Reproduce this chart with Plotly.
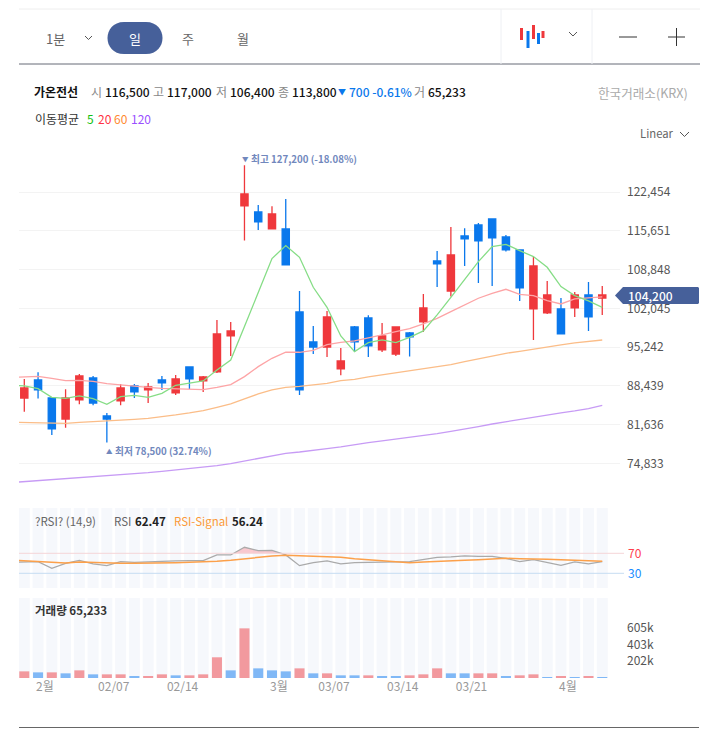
import plotly.graph_objects as go

# ---------- data ----------
idx = list(range(43))
ma_idx = list(range(-1, 43))
opens = [86310,89480,86310,82620,85960,89830,83150,85790,88420,87720,89480,87190,91760,89300,90880,97210,120050,119000,116010,116010,101420,96150,95270,91410,98790,100370,94750,94040,97730,99670,110390,105110,114780,116710,117770,114600,112320,101950,101250,101950,102130,104410,103880]
closes = [88070,87720,80870,86310,90180,85430,82620,88070,87370,88250,88950,89650,89650,90000,97560,98090,122160,117240,118640,109680,87720,95270,100550,92810,96150,95450,97210,98790,97030,102130,109860,111440,114250,113900,114430,112320,105640,109510,104410,97560,104410,100550,104410]
highs = [89650,90820,86310,87840,90530,90180,83680,88770,88770,88950,90180,90350,91760,90180,100020,99670,127200,120230,119990,121280,105110,98960,101600,95100,98960,100840,99490,98790,97910,104590,112140,116360,116130,117060,117770,114950,112320,111090,106870,103880,104940,106700,105990]
lows = [83910,86200,79810,81100,85200,85020,78500,85020,86310,85430,87720,86840,87890,87370,90710,93690,113960,115830,115950,109680,86840,94040,93520,90300,94400,93520,94400,93690,93580,97910,105820,104120,109510,106520,105990,112030,103360,96500,101070,97560,100550,98090,100900]
ma5 = [88600,88420,87950,86430,86250,86660,86200,85200,86550,86780,86430,87130,88540,88890,89300,91230,92990,98850,104700,110800,113080,111030,105760,102240,97210,94450,96040,96500,96040,96970,98090,100900,104000,107050,110270,112900,113310,112200,111150,109270,105880,104290,103360,102240]
ma20 = [89890,89940,90120,89770,89360,89420,89240,88830,88660,88420,88190,88010,87950,87840,87780,88190,88660,90060,91820,93280,94340,94340,94690,95680,96090,96330,96800,97380,97970,98500,99320,100310,101480,102650,103830,104700,105410,104530,104290,103420,102830,103710,103830,104060]
ma60 = [82040,81980,81920,81860,81860,82040,82150,82330,82390,82560,82740,82970,83330,83680,84090,84670,85260,86140,87020,87720,88190,88360,88660,88890,89360,89590,90000,90350,90820,91170,91470,91820,92170,92700,93220,93690,94160,94510,94920,95330,95630,95980,96210,96500]
ma120 = [71440,71610,71790,71960,72140,72310,72490,72670,72780,73020,73190,73430,73660,73900,74130,74420,74770,75240,75710,76180,76590,76820,77060,77410,77700,78110,78460,78760,79050,79400,79690,80050,80460,80810,81280,81740,82150,82560,82920,83270,83680,84030,84440,85020]
rsi = [52,52.7,53.3,40,50,56,48.7,45.3,53.3,52,53.3,54.7,54.7,55.3,55.3,66.7,66.7,82,75.3,76,66.7,45.3,51.3,54.7,48.7,51.3,51.3,52,52.7,53.3,57.3,62,62.7,64.7,64,64,60,53.3,57.3,52,46,52.7,48.7,53.3]
rsi_signal = [56.7,55.3,53.3,51.3,50.7,52.7,51.3,50,50,50,50,50.7,51.3,52,52.7,54,56,59.3,62,64.7,66,65.3,64.7,64,62,59.3,57.3,54,52.7,51.3,52.7,53.3,54.7,56,57.3,58.7,60,59.3,59.3,58,57.3,56,54.7,54]
volume = [80,68,68,56,92,44,44,44,20,20,44,32,32,44,249,92,597,116,92,80,116,56,56,32,32,32,20,20,32,44,116,56,56,56,56,20,32,44,8,20,8,20,8]
volume_up = [1,0,1,0,1,0,1,1,0,1,1,0,1,1,1,0,1,0,0,0,1,0,1,0,0,1,0,0,1,1,1,0,0,1,1,0,1,1,0,1,0,1,0]
price_ticks = [122454,115651,108848,102045,95242,88439,81636,74833]
volume_ticks = [605,403,202]
rsi_levels = [70,30]
date_ticks = [1.5,6.5,11.5,18.5,22.5,27.5,32.5,39.5]
date_labels = ["2월","02/07","02/14","3월","03/07","03/14","03/21","4월"]

FONT = "Noto Sans CJK KR"
RED, BLUE, NAVY = "#ef383c", "#0a78ec", "#46609a"
W, H = 717, 754
px = lambda x: x / W
py = lambda y: 1 - y / H

def rsi_fill():
    xs, ys = [], []
    for i in range(1, len(rsi)):
        a, b = rsi[i - 1], rsi[i]
        if (a - 70) * (b - 70) < 0:
            xs.append(ma_idx[i - 1] + (70 - a) / (b - a)); ys.append(70)
        if b > 70:
            xs.append(ma_idx[i]); ys.append(b)
    return xs, ys

fig = go.Figure()
# ---- main panel ----
fig.add_trace(go.Candlestick(x=idx, open=opens, high=highs, low=lows, close=closes, xaxis="x", yaxis="y",
    increasing=dict(line=dict(color=RED, width=1.3), fillcolor=RED),
    decreasing=dict(line=dict(color=BLUE, width=1.3), fillcolor=BLUE),
    whiskerwidth=0, showlegend=False, hoverinfo="skip"))
for vals, col in [(ma120, "#c79bf5"), (ma60, "#fbbd88"), (ma20, "#fda4a6"), (ma5, "#86dd86")]:
    fig.add_trace(go.Scatter(x=ma_idx, y=vals, mode="lines", line=dict(color=col, width=1.3),
                             xaxis="x", yaxis="y", showlegend=False, hoverinfo="skip"))
# ---- RSI panel ----
fig.add_trace(go.Bar(x=idx, y=[170] * 43, width=0.8, marker=dict(color="#f6f8fc", line_width=0),
                     xaxis="x2", yaxis="y2", showlegend=False, hoverinfo="skip"))
fx, fy = rsi_fill()
fig.add_trace(go.Scatter(x=fx, y=fy, mode="lines", line=dict(width=0), fill="toself",
                         fillcolor="rgba(250,160,170,0.55)", xaxis="x2", yaxis="y2", showlegend=False, hoverinfo="skip"))
fig.add_trace(go.Scatter(x=ma_idx, y=rsi, mode="lines", line=dict(color="#aaaaaa", width=1.3),
                         xaxis="x2", yaxis="y2", showlegend=False, hoverinfo="skip"))
fig.add_trace(go.Scatter(x=ma_idx, y=rsi_signal, mode="lines", line=dict(color="#fca04a", width=1.5),
                         xaxis="x2", yaxis="y2", showlegend=False, hoverinfo="skip"))
# ---- volume panel ----
fig.add_trace(go.Bar(x=idx, y=[1000] * 43, width=0.8, marker=dict(color="#f6f8fc", line_width=0),
                     xaxis="x3", yaxis="y3", showlegend=False, hoverinfo="skip"))
fig.add_trace(go.Bar(x=idx, y=volume, width=0.73,
                     marker=dict(color=["#f2999e" if u else "#80b8f6" for u in volume_up], line_width=0),
                     xaxis="x3", yaxis="y3", showlegend=False, hoverinfo="skip"))

def text(x, y, s, color="#222", size=12, anchor="left", weight=None):
    font = dict(family=FONT, size=size, color=color)
    if weight:
        font["weight"] = weight
    return dict(x=px(x), y=py(y), xref="paper", yref="paper", text=s, showarrow=False, xanchor=anchor,
                yanchor="middle", align=anchor, xshift=-1.5 if anchor == "left" else 0, yshift=0, font=font)

GREY = "#888888"
ann = [
    text(55, 38, "1분", "#666", 13, "center"), text(135, 38, "일", "#fff", 13, "center"),
    text(188, 38, "주", "#666", 13, "center"), text(243, 38, "월", "#666", 13, "center"),
    text(33, 91, "<b>가온전선</b>", "#111"),
    text(90, 91, "시", GREY), text(104, 91, "116,500", "#111", weight=500),
    text(152, 91, "고", GREY), text(166, 91, "117,000", "#111", weight=500),
    text(215, 91, "저", GREY), text(229, 91, "106,400", "#111", weight=500),
    text(277, 91, "종", GREY), text(291, 91, "113,800", "#111", weight=500),
    text(337, 91, "▼", BLUE, 8), text(348, 91, "700 -0.61%", BLUE, weight=500),
    text(414, 91, "거", GREY), text(427, 91, "65,233", "#111", weight=500),
    text(690, 93, "한국거래소(KRX)", "#aaaaaa", 12.6, "right"),
    text(34, 118, "이동평균", "#333"), text(86, 118, "5", "#12c212"), text(97, 118, "20", "#ff3344"),
    text(113, 118, "60", "#ff8a30"), text(130, 118, "120", "#9a50ff"),
    text(639, 133, "Linear", "#666", 11.3),
    text(241, 158.5, "▼", "#7188bd", 6.5),
    text(250, 159, "<b>최고 127,200 (-18.08%)</b>", "#7188bd", 9.7),
    text(105, 451, "▲", "#7188bd", 6.5),
    text(114, 451, "<b>최저 78,500 (32.74%)</b>", "#7188bd", 9.7),
    text(627, 295.5, "104,200", "#fff", 12, weight=500),
    text(34, 521, "?RSI? (14,9)", "#666", 11.5), text(113, 521, "RSI", "#666", 11.5),
    text(134, 521, "<b>62.47</b>", "#222", 11.5), text(173, 521, "RSI-Signal", "#fb9a38", 11.5),
    text(231, 521, "<b>56.24</b>", "#222", 11.5),
    text(34, 610, "<b>거래량 65,233</b>", "#333", 11.5),
    text(627, 552, "70", "#ff4050"), text(627, 572, "30", "#1a8cff"),
]

def line(x0, y0, x1, y1, col, w=1):
    return dict(type="line", xref="paper", yref="paper", x0=px(x0), y0=py(y0), x1=px(x1), y1=py(y1),
                line=dict(color=col, width=w), layer="above")

def poly(points, col=None, w=1.2):
    d = "M" + " L".join(f"{px(a):.5f},{py(b):.5f}" for a, b in points)
    return dict(type="path", xref="paper", yref="paper", path=d, line=dict(color=col, width=w), layer="above")

def filled(d, col):
    return dict(type="path", xref="paper", yref="paper", path=d, fillcolor=col, line=dict(width=0), layer="above")

def P(x, y):
    return f"{px(x):.5f},{py(y):.5f}"

pill = ("M" + P(124, 22) + " L" + P(146, 22) + " C" + P(168, 22) + " " + P(168, 54) + " " + P(146, 54) +
        " L" + P(124, 54) + " C" + P(102, 54) + " " + P(102, 22) + " " + P(124, 22) + " Z")
tag = ("M" + P(615, 295.5) + " L" + P(623, 287) + " L" + P(698, 287) + " L" + P(699, 288) + " L" + P(699, 303) +
       " L" + P(698, 304) + " L" + P(623, 304) + " Z")

shapes = [
    line(19, 9, 700, 9, "#eeeeee"), line(19, 64, 700, 64, "#666b76"), line(19, 727.5, 699, 727.5, "#666666"),
    line(501, 9, 501, 64, "#eef0f4"), line(592, 9, 592, 64, "#eef0f4"),
    filled(pill, NAVY), filled(tag, NAVY),
    line(619, 37, 637, 37, "#333"), line(668, 37, 685, 37, "#333"), line(676.5, 28, 676.5, 46, "#333"),
    line(521.5, 28, 521.5, 40, RED, 3), line(528, 31, 528, 48, BLUE, 3), line(533.5, 25, 533.5, 39, RED, 3),
    line(538.5, 33, 538.5, 44, BLUE, 3), line(543, 31, 543, 38, RED, 3),
    poly([(85, 36), (88.5, 39.5), (92, 36)], "#555", 1), poly([(569, 32), (573, 36), (577, 32)], "#555", 1),
    poly([(680, 132), (684.5, 136.5), (689, 132)], "#555", 1),
    dict(type="line", xref="paper", yref="y2", x0=px(19), x1=px(624), y0=rsi_levels[0], y1=rsi_levels[0],
         line=dict(color="#f5d5d8", width=1), layer="above"),
    dict(type="line", xref="paper", yref="y2", x0=px(19), x1=px(624), y0=rsi_levels[1], y1=rsi_levels[1],
         line=dict(color="#c6dcf2", width=1), layer="above"),
]

hidden_x = dict(showgrid=False, zeroline=False, showticklabels=False, ticks="", showline=False)
tickfont = dict(family=FONT, size=12, color="#555555")
fig.update_layout(
    width=W, height=H, margin=dict(l=0, r=0, t=0, b=0, pad=0), autosize=False,
    paper_bgcolor="#ffffff", plot_bgcolor="rgba(0,0,0,0)", showlegend=False, barmode="overlay", boxgap=0.25,
    annotations=ann, shapes=shapes, hovermode=False,
    xaxis=dict(domain=[px(19), px(620)], range=[-0.385, 43.29], rangeslider=dict(visible=False), anchor="y", **hidden_x),
    yaxis=dict(domain=[py(485), py(145)], range=[71020, 130758], side="right", anchor="x", tickvals=price_ticks,
               ticktext=[f"{v:,}" for v in price_ticks], showgrid=True, gridcolor="#f3f3f3", gridwidth=1,
               zeroline=False, ticks="", ticklabelstandoff=6, tickfont=tickfont, showline=False),
    xaxis2=dict(domain=[px(19), px(609)], range=[-0.385, 42.49], anchor="y2", **hidden_x),
    yaxis2=dict(domain=[py(588), py(508)], range=[0.6, 160.6], side="right", anchor="x2", tickvals=rsi_levels,
                ticktext=["", ""], showgrid=False, zeroline=False, ticks=""),
    xaxis3=dict(domain=[px(19), px(609)], range=[-0.385, 42.49], anchor="y3", showgrid=False, zeroline=False,
                ticks="", tickvals=date_ticks, ticktext=date_labels,
                tickfont=dict(family=FONT, size=12, color="#999999")),
    yaxis3=dict(domain=[py(678), py(598)], range=[0, 962], side="right", anchor="x3", tickvals=volume_ticks,
                ticktext=[f"{v}k" for v in volume_ticks], showgrid=False, zeroline=False, ticks="",
                ticklabelstandoff=17, tickfont=tickfont),
)
fig.write_html("out.html", config=dict(displayModeBar=False),
               post_script="document.body.style.margin='0';document.body.style.overflow='hidden';")
